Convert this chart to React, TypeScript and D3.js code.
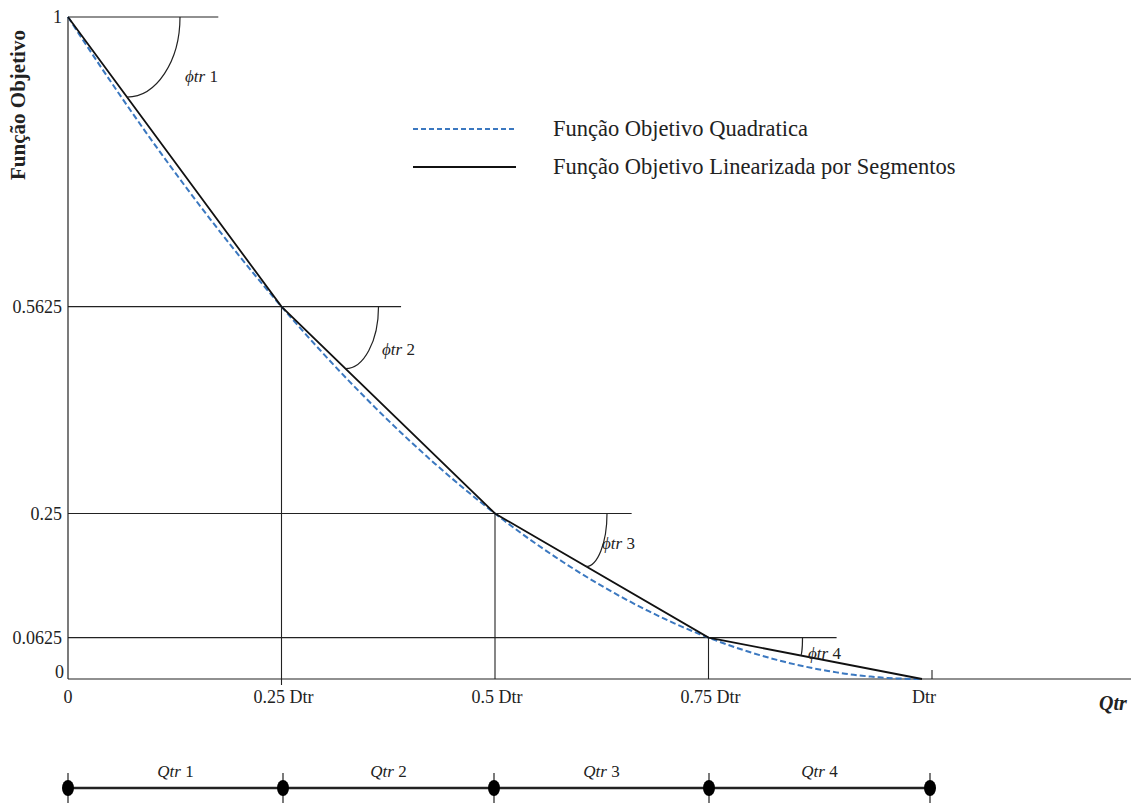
import React from "react";
import * as d3 from "d3";

const breakpoints = [0, 0.25, 0.5, 0.75, 1];
const linearValues = [1, 0.5625, 0.25, 0.0625, 0];
const quadX = d3.range(0, 1.0001, 0.01);
const quadValues = quadX.map((x) => (1 - x) * (1 - x));
const xTickLabels = ["0", "0.25 Dtr", "0.5 Dtr", "0.75 Dtr", "Dtr"];
const yTickValues = [0, 0.0625, 0.25, 0.5625, 1];
const yTickLabels = ["0", "0.0625", "0.25", "0.5625", "1"];
const hLineEnds = [0.176, 0.39, 0.66, 0.9];
const angleLabels = ["1", "2", "3", "4"];
const segmentLabels = ["1", "2", "3", "4"];

const W = 1131;
const H = 803;
const serif = "'Liberation Serif', 'DejaVu Serif', serif";

export default function App() {
  const x = d3.scaleLinear().domain([0, 1]).range([68, 922]);
  const y = d3.scaleLinear().domain([0, 1]).range([679, 17]);

  const linePath = d3
    .line<number>()
    .x((_, i) => x(breakpoints[i]))
    .y((d) => y(d))(linearValues) as string;
  const quadPath = d3
    .line<number>()
    .x((_, i) => x(quadX[i]))
    .y((d) => y(d))
    .curve(d3.curveMonotoneX)(quadValues) as string;

  const arcs = [0, 1, 2, 3].map((i) => {
    const x0 = x(breakpoints[i]);
    const y0 = y(linearValues[i]);
    const x1 = x(breakpoints[i + 1]);
    const y1 = y(linearValues[i + 1]);
    const slope = (y1 - y0) / (x1 - x0);
    const startDx = [112, 97, 112, 94][i];
    const endDx = [59, 64, 91, 92][i];
    const sx = x0 + startDx;
    const ex = x0 + endDx;
    const ey = y0 + slope * endDx;
    const rx = sx - ex;
    const ry = ey - y0;
    return `M${sx},${y0} A${rx},${ry} 0 0 1 ${ex},${ey}`;
  });
  const labelPos = [
    [185, 82],
    [382, 355],
    [602, 549],
    [808, 659],
  ];

  const bottomY = 788;
  const bottomXs = [68, 283, 494, 709, 930];

  return (
    <svg width={W} height={H} style={{ position: "absolute", left: 0, top: 0, background: "#fff" }}>
      <rect width={W} height={H} fill="#fff" />
      <line x1={x(0)} y1={y(1)} x2={x(0)} y2={y(0)} stroke="#222" strokeWidth={1.2} />
      <line x1={x(0)} y1={y(0)} x2={W} y2={y(0)} stroke="#222" strokeWidth={1.2} />
      {[0, 1, 2, 3].map((i) => (
        <line
          key={"h" + i}
          x1={x(0)}
          x2={x(hLineEnds[i])}
          y1={y(linearValues[i])}
          y2={y(linearValues[i])}
          stroke="#222"
          strokeWidth={1.1}
        />
      ))}
      {[1, 2, 3].map((i) => (
        <line
          key={"v" + i}
          x1={x(breakpoints[i])}
          x2={x(breakpoints[i])}
          y1={y(linearValues[i])}
          y2={y(0) + (i === 1 ? 6 : 0)}
          stroke="#222"
          strokeWidth={1.1}
        />
      ))}
      <line x1={x(1) + 10} x2={x(1) + 10} y1={y(0) - 9} y2={y(0)} stroke="#222" strokeWidth={1.1} />
      <path d={quadPath} fill="none" stroke="#3b78c0" strokeWidth={2} strokeDasharray="6,3" />
      <path d={linePath} fill="none" stroke="#111" strokeWidth={1.8} />
      {arcs.map((d, i) => (
        <path key={"a" + i} d={d} fill="none" stroke="#222" strokeWidth={1.2} />
      ))}
      {angleLabels.map((t, i) => (
        <text key={"al" + i} x={labelPos[i][0]} y={labelPos[i][1]} fontFamily={serif} fontSize={17} fill="#222">
          <tspan fontStyle="italic">ϕtr</tspan>
          <tspan> {t}</tspan>
        </text>
      ))}
      {yTickValues.map((v, i) => (
        <text
          key={"yt" + i}
          x={v === 0 ? 64 : 62}
          y={y(v) + (v === 0 ? -1 : 6)}
          textAnchor="end"
          fontFamily={serif}
          fontSize={18}
          fill="#222"
        >
          {yTickLabels[i]}
        </text>
      ))}
      {xTickLabels.map((t, i) => (
        <text
          key={"xt" + i}
          x={x(breakpoints[i]) + (i === 0 ? 0 : 2)}
          y={703}
          textAnchor="middle"
          fontFamily={serif}
          fontSize={18}
          fill="#222"
        >
          {t}
        </text>
      ))}
      <text x={1113} y={710} textAnchor="middle" fontFamily={serif} fontSize={20} fontStyle="italic" fontWeight="bold" fill="#222">
        Qtr
      </text>
      <text
        transform={`translate(25,105) rotate(-90)`}
        textAnchor="middle"
        fontFamily={serif}
        fontSize={21}
        fontWeight="bold"
        fill="#222"
      >
        Função Objetivo
      </text>
      <line x1={413} x2={516} y1={129} y2={129} stroke="#3b78c0" strokeWidth={1.8} strokeDasharray="5,3" />
      <text x={553} y={136} fontFamily={serif} fontSize={22.5} fill="#222">
        Função Objetivo Quadratica
      </text>
      <line x1={413} x2={516} y1={167} y2={167} stroke="#111" strokeWidth={2} />
      <text x={553} y={174} fontFamily={serif} fontSize={22.5} fill="#222">
        Função Objetivo Linearizada por Segmentos
      </text>
      <line x1={bottomXs[0]} x2={bottomXs[4]} y1={bottomY} y2={bottomY} stroke="#222" strokeWidth={2.5} />
      {bottomXs.map((bx, i) => (
        <g key={"b" + i}>
          <line x1={bx} x2={bx} y1={bottomY - 15} y2={bottomY + 15} stroke="#222" strokeWidth={1.2} />
          <ellipse cx={bx} cy={bottomY} rx={6} ry={8} fill="#000" />
        </g>
      ))}
      {segmentLabels.map((t, i) => (
        <text
          key={"sl" + i}
          x={(bottomXs[i] + bottomXs[i + 1]) / 2}
          y={777}
          textAnchor="middle"
          fontFamily={serif}
          fontSize={17}
          fill="#222"
        >
          <tspan fontStyle="italic">Qtr</tspan>
          <tspan> {t}</tspan>
        </text>
      ))}
    </svg>
  );
}
